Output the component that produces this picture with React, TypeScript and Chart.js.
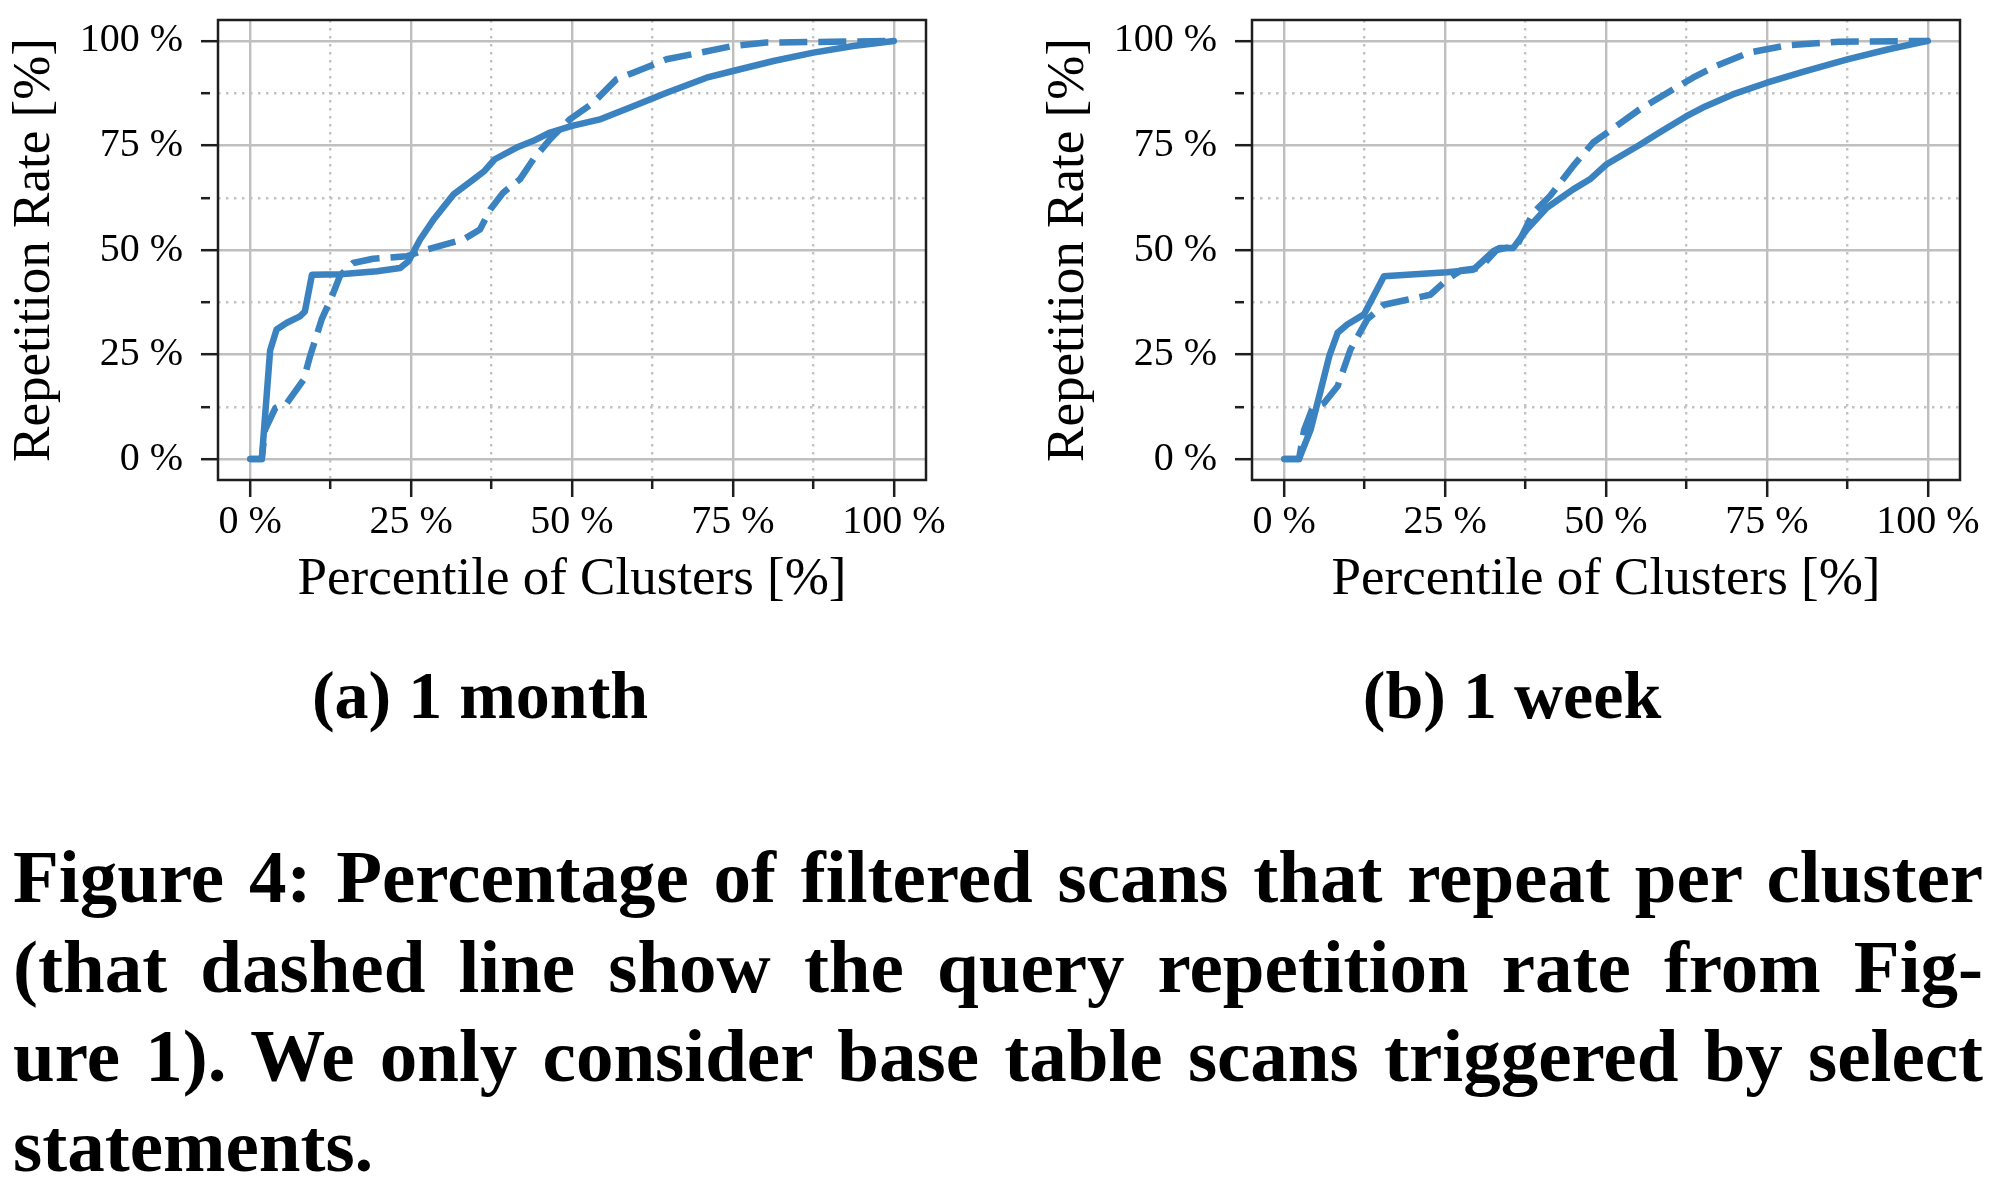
import React, { useEffect, useRef } from 'react';
import { Chart, registerables } from 'chart.js';

Chart.register(...registerables);

const FONT = "'Liberation Serif', 'Times New Roman', serif";
const LINE_COLOR = '#3a82c0';
const MAJOR_GRID = '#bfbfbf';
const MINOR_GRID = '#c2c2c2';
const FRAME = '#1e1e1e';

const MAJOR_TICKS = [0, 25, 50, 75, 100];
const MINOR_TICKS = [12.5, 37.5, 62.5, 87.5];
const ALL_TICKS = [0, 12.5, 25, 37.5, 50, 62.5, 75, 87.5, 100];

const X_TITLE = 'Percentile of Clusters [%]';
const Y_TITLE = 'Repetition Rate [%]';

// (a) 1 month — solid: filtered scans, dashed: queries
const monthScanX = [0, 1.8, 2.1, 3.1, 4.1, 5.7, 7.8, 8.5, 9.6, 14, 19.7, 23.3, 24.6, 26.4, 28.5, 31.6, 34.7, 36.4, 38, 41.4, 44, 46.6, 50, 54.5, 59.5, 64.7, 70.9, 75, 81.3, 87.5, 93.7, 100];
const monthScanY = [0, 0, 6, 26, 31, 32.6, 34.2, 35.3, 44.1, 44.2, 44.9, 45.7, 47.3, 52.5, 57.3, 63.3, 66.9, 68.9, 71.7, 74.5, 76.1, 78.1, 79.7, 81.3, 84.4, 87.6, 91.2, 92.8, 95.2, 97.2, 98.8, 100];
const monthQueryX = [0, 1.8, 2.3, 3.9, 5.7, 8.3, 9.3, 11.1, 12.7, 14, 16, 19.1, 24.3, 27.4, 33.1, 35.7, 37.3, 39.3, 41.9, 44, 46.6, 49.7, 53.3, 56.9, 59.5, 64.7, 69.9, 75, 80.2, 100];
const monthQueryY = [0, 0, 7, 12.2, 13.4, 19, 24.6, 33.4, 38.9, 44, 46.9, 47.9, 48.5, 50.1, 52.5, 54.9, 59.7, 63.7, 66.9, 71.7, 76.5, 81.3, 85.2, 90.8, 92.4, 95.6, 97.2, 98.8, 99.6, 100];

// (b) 1 week
const weekScanX = [0, 2.3, 4.1, 5.7, 7, 8.3, 9.8, 12.4, 15.5, 19.1, 25.3, 29.4, 32.5, 33.5, 35.6, 37.7, 40.8, 44.9, 47.5, 50.1, 55.2, 58.3, 62.5, 65.5, 69.7, 75, 81, 87.5, 93.9, 100];
const weekScanY = [0, 0, 7, 16.6, 24.6, 30.2, 32.2, 34.6, 43.7, 44.1, 44.7, 45.3, 49.7, 50.5, 50.5, 54.9, 60.1, 64.5, 66.9, 70.5, 75.1, 78.1, 82, 84.4, 87.2, 90, 92.8, 95.6, 98, 100];
const weekQueryX = [0, 2.3, 3.1, 4.4, 6.2, 8.3, 10.3, 12.9, 15.5, 19.1, 22.7, 25.3, 27.4, 30.4, 33, 36.2, 38.7, 41.3, 44.9, 48, 51.6, 55.2, 57.8, 60.4, 63.5, 67.1, 72.2, 78.4, 86.2, 100];
const weekQueryY = [0, 0, 7, 12.2, 13.4, 17.4, 26.2, 33.4, 36.9, 38.1, 39.3, 42.9, 45.1, 45.7, 50, 51.1, 58.9, 62.9, 70.1, 75.7, 79.6, 83.6, 86, 88.4, 91.2, 94, 97.2, 99, 99.8, 100];

const SUBCAPTIONS = ['(a) 1 month', '(b) 1 week'];
const CAPTION_LINES = [
  'Figure 4: Percentage of filtered scans that repeat per cluster',
  '(that dashed line show the query repetition rate from Fig-',
  'ure 1). We only consider base table scans triggered by select',
  'statements.',
];

const zip = (xs: number[], ys: number[]) => xs.map((x, i) => ({ x, y: ys[i] }));
const isMinor = (v: any) => MINOR_TICKS.includes(v);

const framePlugin = {
  id: 'frame',
  afterDraw(chart: any) {
    const { ctx, chartArea } = chart;
    const { left, top, right, bottom } = chartArea;
    ctx.save();
    ctx.strokeStyle = FRAME;
    ctx.lineWidth = 2.5;
    ctx.strokeRect(left, top, right - left, bottom - top);
    ctx.restore();
  },
};

function axisCommon(isX: boolean) {
  return {
    type: 'linear',
    min: -5,
    max: 105,
    afterBuildTicks: (s: any) => {
      s.ticks = ALL_TICKS.map((v) => ({ value: v }));
    },
    afterFit: (s: any) => {
      if (isX) s.height = 140;
      else s.width = 218;
      s.paddingTop = 0;
      s.paddingBottom = 0;
      s.paddingLeft = 0;
      s.paddingRight = 0;
    },
    grid: {
      color: (c: any) => (c.tick && isMinor(c.tick.value) ? MINOR_GRID : MAJOR_GRID),
      lineWidth: 2.4,
      drawTicks: true,
      tickLength: 17,
      tickColor: FRAME,
      tickWidth: 2.5,
      tickBorderDash: (c: any) => (c.tick && isMinor(c.tick.value) ? [9, 40] : []),
    },
    border: {
      display: false,
      dash: (c: any) => (c.tick && isMinor(c.tick.value) ? [2.5, 5.5] : []),
    },
    ticks: {
      autoSkip: false,
      maxRotation: 0,
      minRotation: 0,
      padding: isX ? 1 : 18,
      color: '#000',
      font: { family: FONT, size: 40 },
      callback: (v: any) => (MAJOR_TICKS.includes(v) ? `${v} %` : ''),
    },
    title: {
      display: true,
      text: isX ? X_TITLE : Y_TITLE,
      color: '#000',
      font: { family: FONT, size: 53 },
      padding: isX ? { top: 0, bottom: 8 } : { top: 3, bottom: 0 },
    },
  };
}

function Panel(props: { scanX: number[]; scanY: number[]; queryX: number[]; queryY: number[] }) {
  const ref = useRef<HTMLCanvasElement | null>(null);
  useEffect(() => {
    if (!ref.current) return;
    const chart = new Chart(ref.current, {
      type: 'line',
      data: {
        datasets: [
          {
            label: 'Filtered scans',
            data: zip(props.scanX, props.scanY),
            borderColor: LINE_COLOR,
            backgroundColor: LINE_COLOR,
            borderWidth: 6.5,
            pointRadius: 0,
            tension: 0,
            fill: false,
            borderJoinStyle: 'round',
            borderCapStyle: 'round',
          },
          {
            label: 'Queries',
            data: zip(props.queryX, props.queryY),
            borderColor: LINE_COLOR,
            backgroundColor: LINE_COLOR,
            borderWidth: 6.5,
            borderDash: [28, 11],
            pointRadius: 0,
            tension: 0,
            fill: false,
            borderJoinStyle: 'round',
            borderCapStyle: 'butt',
          },
        ],
      },
      options: {
        animation: false,
        responsive: false,
        devicePixelRatio: 1,
        layout: { padding: { left: 0, top: 20, right: 74, bottom: 0 } },
        plugins: { legend: { display: false }, tooltip: { enabled: false } },
        scales: {
          x: { ...axisCommon(true), position: 'bottom' },
          y: { ...axisCommon(false), position: 'left' },
        },
      } as any,
      plugins: [framePlugin],
    } as any);
    return () => chart.destroy();
  }, []);
  return <canvas ref={ref} width={1000} height={620} style={{ display: 'block' }} />;
}

const subStyle: React.CSSProperties = {
  position: 'absolute',
  top: 661,
  width: 600,
  textAlign: 'center',
  fontFamily: FONT,
  fontWeight: 'bold',
  fontSize: 68,
  lineHeight: '68px',
  color: '#000',
  whiteSpace: 'nowrap',
};

export default function App() {
  return (
    <div style={{ position: 'absolute', left: 0, top: 0, width: 2000, height: 1182, background: '#fff', overflow: 'hidden' }}>
      <div style={{ position: 'absolute', left: 0, top: 0 }}>
        <Panel scanX={monthScanX} scanY={monthScanY} queryX={monthQueryX} queryY={monthQueryY} />
      </div>
      <div style={{ position: 'absolute', left: 1034, top: 0 }}>
        <Panel scanX={weekScanX} scanY={weekScanY} queryX={weekQueryX} queryY={weekQueryY} />
      </div>
      <div style={{ ...subStyle, left: 480 - 300 }}>{SUBCAPTIONS[0]}</div>
      <div style={{ ...subStyle, left: 1512 - 300 }}>{SUBCAPTIONS[1]}</div>
      <div
        style={{
          position: 'absolute',
          left: 13,
          top: 832,
          width: 1970,
          fontFamily: FONT,
          fontWeight: 'bold',
          fontSize: 75,
          lineHeight: '89.5px',
          color: '#000',
        }}
      >
        {CAPTION_LINES.map((line, i) => (
          <div
            key={i}
            style={{
              whiteSpace: 'nowrap',
              textAlign: i < CAPTION_LINES.length - 1 ? 'justify' : 'left',
              textAlignLast: i < CAPTION_LINES.length - 1 ? 'justify' : 'left',
            }}
          >
            {line}
          </div>
        ))}
      </div>
    </div>
  );
}
